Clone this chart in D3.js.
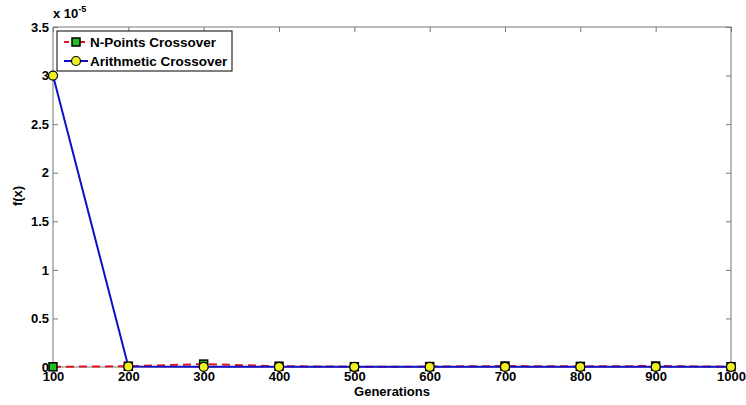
<!DOCTYPE html>
<html>
<head>
<meta charset="utf-8">
<script src="https://cdn.jsdelivr.net/npm/d3@7"></script>
<style>
  body { margin: 0; background: #fff; }
  text { font-family: "Liberation Sans", Arial, sans-serif; font-weight: bold; fill: #000; }
</style>
</head>
<body>
<svg id="chart" width="746" height="405"></svg>
<script>
// data (values in units of 1e-5)
var generations = [100, 200, 300, 400, 500, 600, 700, 800, 900, 1000];
var nPoints = [0.002, 0.008, 0.03, 0.008, 0.003, 0.004, 0.01, 0.006, 0.01, 0.003];
var arithmetic = [3.0, 0.005, 0.002, 0.002, 0.002, 0.002, 0.002, 0.002, 0.002, 0.002];
var yTicks = [0, 0.5, 1, 1.5, 2, 2.5, 3, 3.5];
var seriesNames = ["N-Points Crossover", "Arithmetic Crossover"];

var params = {
  "margin": { "top": 27, "right": 15, "bottom": 38, "left": 53 },
  "width": 746,
  "height": 405
};
params.plot = {
  "width": params.width - params.margin.left - params.margin.right,
  "height": params.height - params.margin.top - params.margin.bottom
};

function translate(x, y) { return "translate(" + x + "," + y + ")"; }

var svg = d3.select("#chart");
var plot = svg.append("g").attr("transform", translate(params.margin.left, params.margin.top));

var x = d3.scaleLinear().domain([100, 1000]).range([0, params.plot.width]);
var y = d3.scaleLinear().domain([0, 3.5]).range([params.plot.height, 0]);

// box
plot.append("rect")
  .attr("width", params.plot.width)
  .attr("height", params.plot.height)
  .attr("fill", "none")
  .attr("stroke", "#777")
  .attr("stroke-width", 1);

// axes with inward ticks
var plain = function(d) { return String(d); };
var axes = [
  { ax: d3.axisBottom(x).tickValues(generations).tickSize(-5).tickPadding(5).tickFormat(plain), t: translate(0, params.plot.height), labels: true },
  { ax: d3.axisTop(x).tickValues(generations).tickSize(-5), t: translate(0, 0), labels: false },
  { ax: d3.axisLeft(y).tickValues(yTicks).tickSize(-5).tickPadding(4).tickFormat(plain), t: translate(0, 0), labels: true },
  { ax: d3.axisRight(y).tickValues(yTicks).tickSize(-5), t: translate(params.plot.width, 0), labels: false }
];
axes.forEach(function(a) {
  var g = plot.append("g").attr("transform", a.t).call(a.ax);
  g.select(".domain").remove();
  g.selectAll(".tick line").attr("stroke", "#777");
  if (!a.labels) g.selectAll(".tick text").remove();
  else g.selectAll(".tick text").style("font-size", "13px");
});

// exponent label
var expo = svg.append("text").attr("x", 53).attr("y", 18).style("font-size", "13px");
expo.append("tspan").text("x 10");
expo.append("tspan").attr("dy", -6).style("font-size", "9px").text("-5");

// axis labels
svg.append("text")
  .attr("x", params.margin.left + params.plot.width / 2)
  .attr("y", 396)
  .attr("text-anchor", "middle")
  .style("font-size", "13px")
  .text("Generations");

svg.append("text")
  .attr("transform", translate(22, 196) + " rotate(-90)")
  .attr("text-anchor", "middle")
  .style("font-size", "13px")
  .text("f(x)");

var line = d3.line()
  .x(function(d, i) { return x(generations[i]); })
  .y(function(d) { return y(d); });

// N-Points series
plot.append("path")
  .datum(nPoints)
  .attr("d", line)
  .attr("fill", "none")
  .attr("stroke", "#e0141e")
  .attr("stroke-width", 2)
  .attr("stroke-dasharray", "8,5");

plot.selectAll("rect.np")
  .data(nPoints)
  .enter().append("rect")
  .attr("class", "np")
  .attr("x", function(d, i) { return x(generations[i]) - 4; })
  .attr("y", function(d) { return y(d) - 4; })
  .attr("width", 8)
  .attr("height", 8)
  .attr("fill", "#1fbf1f")
  .attr("stroke", "#000")
  .attr("stroke-width", 1.5);

// Arithmetic series
plot.append("path")
  .datum(arithmetic)
  .attr("d", line)
  .attr("fill", "none")
  .attr("stroke", "#1010c8")
  .attr("stroke-width", 2);

plot.selectAll("circle.ar")
  .data(arithmetic)
  .enter().append("circle")
  .attr("class", "ar")
  .attr("cx", function(d, i) { return x(generations[i]); })
  .attr("cy", function(d) { return y(d); })
  .attr("r", 4.5)
  .attr("fill", "#f0f020")
  .attr("stroke", "#000")
  .attr("stroke-width", 1.2);

// legend
var legend = svg.append("g").attr("transform", translate(57, 31));
legend.append("rect")
  .attr("width", 175)
  .attr("height", 40)
  .attr("fill", "#fff")
  .attr("stroke", "#000")
  .attr("stroke-width", 1);

var rows = legend.selectAll("g.row")
  .data(seriesNames)
  .enter().append("g")
  .attr("class", "row")
  .attr("transform", function(d, i) { return translate(0, 11 + i * 19); });

rows.append("line")
  .attr("x1", 7).attr("x2", 31)
  .attr("stroke", function(d, i) { return i === 0 ? "#e0141e" : "#1010c8"; })
  .attr("stroke-width", 2)
  .attr("stroke-dasharray", function(d, i) { return i === 0 ? "5,3" : null; });

rows.filter(function(d, i) { return i === 0; }).append("rect")
  .attr("x", 15).attr("y", -4).attr("width", 8).attr("height", 8)
  .attr("fill", "#1fbf1f").attr("stroke", "#000").attr("stroke-width", 1.5);

rows.filter(function(d, i) { return i === 1; }).append("circle")
  .attr("cx", 19).attr("r", 4.5)
  .attr("fill", "#f0f020").attr("stroke", "#000").attr("stroke-width", 1.2);

rows.append("text")
  .attr("x", 33)
  .attr("y", 5)
  .style("font-size", "13.5px")
  .text(function(d) { return d; });
</script>
</body>
</html>
